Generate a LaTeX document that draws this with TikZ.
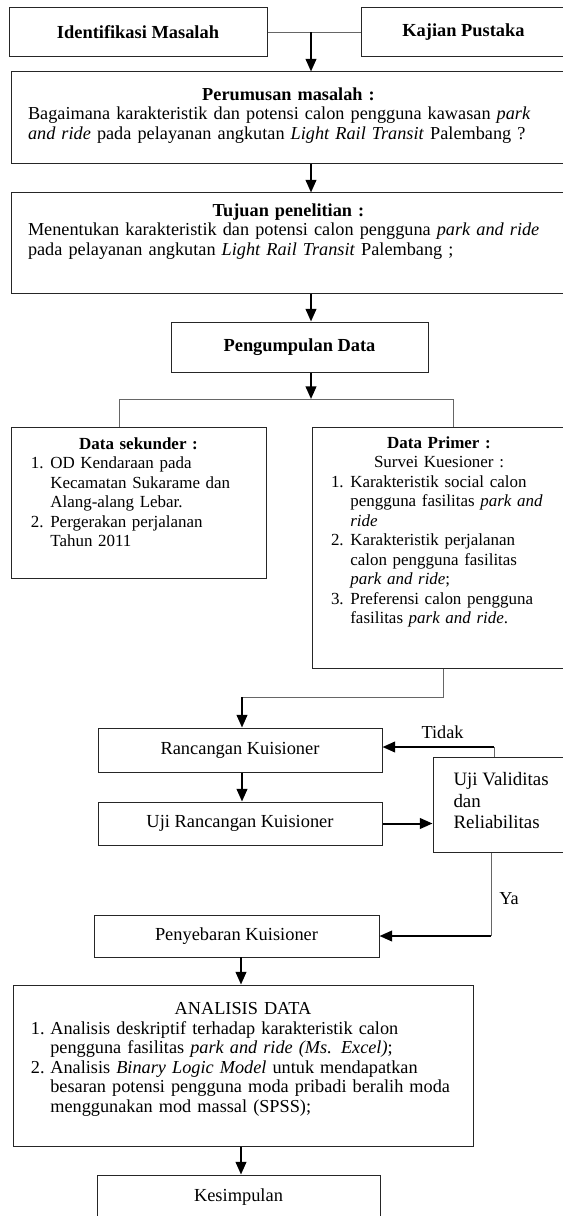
\documentclass[tikz,border=0pt]{standalone}
\usepackage{fontspec}
\setmainfont{Liberation Serif}
\usetikzlibrary{arrows.meta}

\tikzset{every picture/.style={line width=0.75pt}}
\tikzset{
  box/.style={draw=black!85, rectangle, inner sep=0pt, font=\fontsize{13.8}{14.63}\selectfont},
  txt/.style={inner sep=0pt, font=\fontsize{12.72}{14.63}\selectfont},
  txtl/.style={inner sep=0pt, font=\fontsize{13.7}{14.63}\selectfont},
  arr/.style={line width=1.5pt, -{Triangle[length=9.5pt,width=8pt]}},
  lnk/.style={draw=black!60, line width=0.75pt},
}
\newcommand{\lnum}[1]{\makebox[14.5pt][l]{#1}}
\newcommand{\lgap}{\hspace*{14.5pt}}

\begin{document}
\begin{tikzpicture}[x=0.75pt,y=0.75pt,yscale=-1,xscale=1]
  \useasboundingbox (0,0) rectangle (563,1216);

  %Shape: Rectangle
  \node[box, minimum width=193.5pt, minimum height=36.75pt] (idm) at (138,32.5) {\bfseries Identifikasi Masalah};
  %Shape: Rectangle
  \node[box, minimum width=153.75pt, minimum height=36.75pt] (kp) at (463.5,32.5) {\bfseries Kajian Pustaka};
  %Shape: Rectangle
  \node[box, minimum width=416.25pt, minimum height=69pt] (pm) at (288.5,118) {};
  %Shape: Rectangle
  \node[box, minimum width=416.25pt, minimum height=75pt] (tp) at (288.5,243) {};
  %Shape: Rectangle
  \node[box, minimum width=192.75pt, minimum height=37.5pt] (pd) at (299.5,347) {\bfseries Pengumpulan Data};
  %Shape: Rectangle
  \node[box, minimum width=191.25pt, minimum height=113.25pt] (ds) at (138.5,502.5) {};
  %Shape: Rectangle
  \node[box, minimum width=190.5pt, minimum height=180.75pt] (dp) at (439,547.5) {};
  %Shape: Rectangle
  \node[box, minimum width=213pt, minimum height=33pt] (rk) at (240,750) {Rancangan Kuisioner};
  %Shape: Rectangle
  \node[box, minimum width=213pt, minimum height=32.25pt] (urk) at (240,823.5) {Uji Rancangan Kuisioner};
  %Shape: Rectangle
  \node[box, minimum width=99.75pt, minimum height=71.25pt] (uv) at (499.5,804.5) {};
  %Shape: Rectangle
  \node[box, minimum width=213.75pt, minimum height=31.5pt] (pk) at (236.5,936) {Penyebaran Kuisioner};
  %Shape: Rectangle
  \node[box, minimum width=345pt, minimum height=120.75pt] (ad) at (243,1065.5) {};
  %Shape: Rectangle
  \node[box, minimum width=212.25pt, minimum height=33pt] (ks) at (238.5,1197) {Kesimpulan};

  % Text Node
  \node[txtl, anchor=north, text width=390.75pt, align=left] (pm-t) at (288.5,87) {{\centering\bfseries Perumusan masalah :\par}
    Bagaimana karakteristik dan potensi calon pengguna kawasan \textit{park}\\
    \textit{and ride} pada pelayanan angkutan \textit{Light Rail Transit} Palembang ?};
  % Text Node
  \node[txtl, anchor=north, text width=390.75pt, align=left] (tp-t) at (288.5,203) {{\centering\bfseries Tujuan penelitian :\par}
    Menentukan karakteristik dan potensi calon pengguna \textit{park and ride}\\
    pada pelayanan angkutan \textit{Light Rail Transit} Palembang ;};
  % Text Node
  \node[txt, anchor=north, text width=161.25pt, align=left] (ds-t) at (138.5,437) {{\centering\bfseries Data sekunder :\par}
    \lnum{1.}OD Kendaraan pada\\
    \lgap Kecamatan Sukarame dan\\
    \lgap Alang-alang Lebar.\\
    \lnum{2.}Pergerakan perjalanan\\
    \lgap Tahun 2011};
  % Text Node
  \node[txt, anchor=north, text width=162pt, align=left] (dp-t) at (439,436) {{\centering\bfseries Data Primer :\par}
    {\centering Survei Kuesioner :\par}
    \lnum{1.}Karakteristik social calon\\
    \lgap pengguna fasilitas \textit{park and}\\
    \lgap\textit{ride}\\
    \lnum{2.}Karakteristik perjalanan\\
    \lgap calon pengguna fasilitas\\
    \lgap\textit{park and ride};\\
    \lnum{3.}Preferensi calon pengguna\\
    \lgap fasilitas \textit{park and ride}.};
  % Text Node
  \node[txtl, anchor=north, text width=318pt, align=left] (ad-t) at (243,1002) {{\centering ANALISIS DATA\par}
    \lnum{1.}Analisis deskriptif terhadap karakteristik calon\\
    \lgap pengguna fasilitas \textit{park and ride (Ms. Excel)};\\
    \lnum{2.}Analisis \textit{Binary Logic Model} untuk mendapatkan\\
    \lgap besaran potensi pengguna moda pribadi beralih moda\\
    \lgap menggunakan mod massal (SPSS);};
  % Text Node
  \node[inner sep=0pt, font=\fontsize{14.2}{16.1}\selectfont, anchor=north west, align=left] (uv-t) at (453,772) {Uji Validitas\\dan\\Reliabilitas};
  % Text Node
  \node[txtl] (tdk-l) at (442.5,732) {Tidak};
  % Text Node
  \node[txtl] (ya-l) at (509,899) {Ya};

  %Straight Lines
  \coordinate (c1) at (311,32.5);
  \coordinate (c2) at (311,399);
  \coordinate (c3) at (119,399);
  \coordinate (c4) at (453,399);
  \coordinate (c5) at (443,697);
  \coordinate (c6) at (242,697);
  \coordinate (c7) at (494,747);
  \coordinate (c8) at (491,936);
  \coordinate (c9) at (241,957);

  \draw[lnk] (idm.east) -- (kp.west);
  \draw[arr] (c1) -- (c1 |- pm.north);
  \draw[arr] (pm.south -| c1) -- (tp.north -| c1);
  \draw[arr] (tp.south -| c1) -- (pd.north -| c1);
  \draw[arr] (pd.south -| c2) -- (c2);
  \draw[lnk] (c3 |- ds.north) -- (c3) -- (c4) -- (c4 |- dp.north);
  \draw[lnk] (dp.south -| c5) -- (c5) -- (c6);
  \draw[arr] (c6) -- (c6 |- rk.north);
  \draw[arr] (rk.south -| c6) -- (urk.north -| c6);
  \draw[arr] (urk.east) -- (urk.east -| uv.west);
  \draw[lnk] (uv.north -| c7) -- (c7);
  \draw[arr] (c7) -- (c7 -| rk.east);
  \draw[lnk] (uv.south -| c8) -- (c8);
  \draw[arr] (c8) -- (pk.east);
  \draw[arr] (c9) -- (c9 |- ad.north);
  \draw[arr] (ad.south -| c9) -- (ks.north -| c9);

\end{tikzpicture}
\end{document}
